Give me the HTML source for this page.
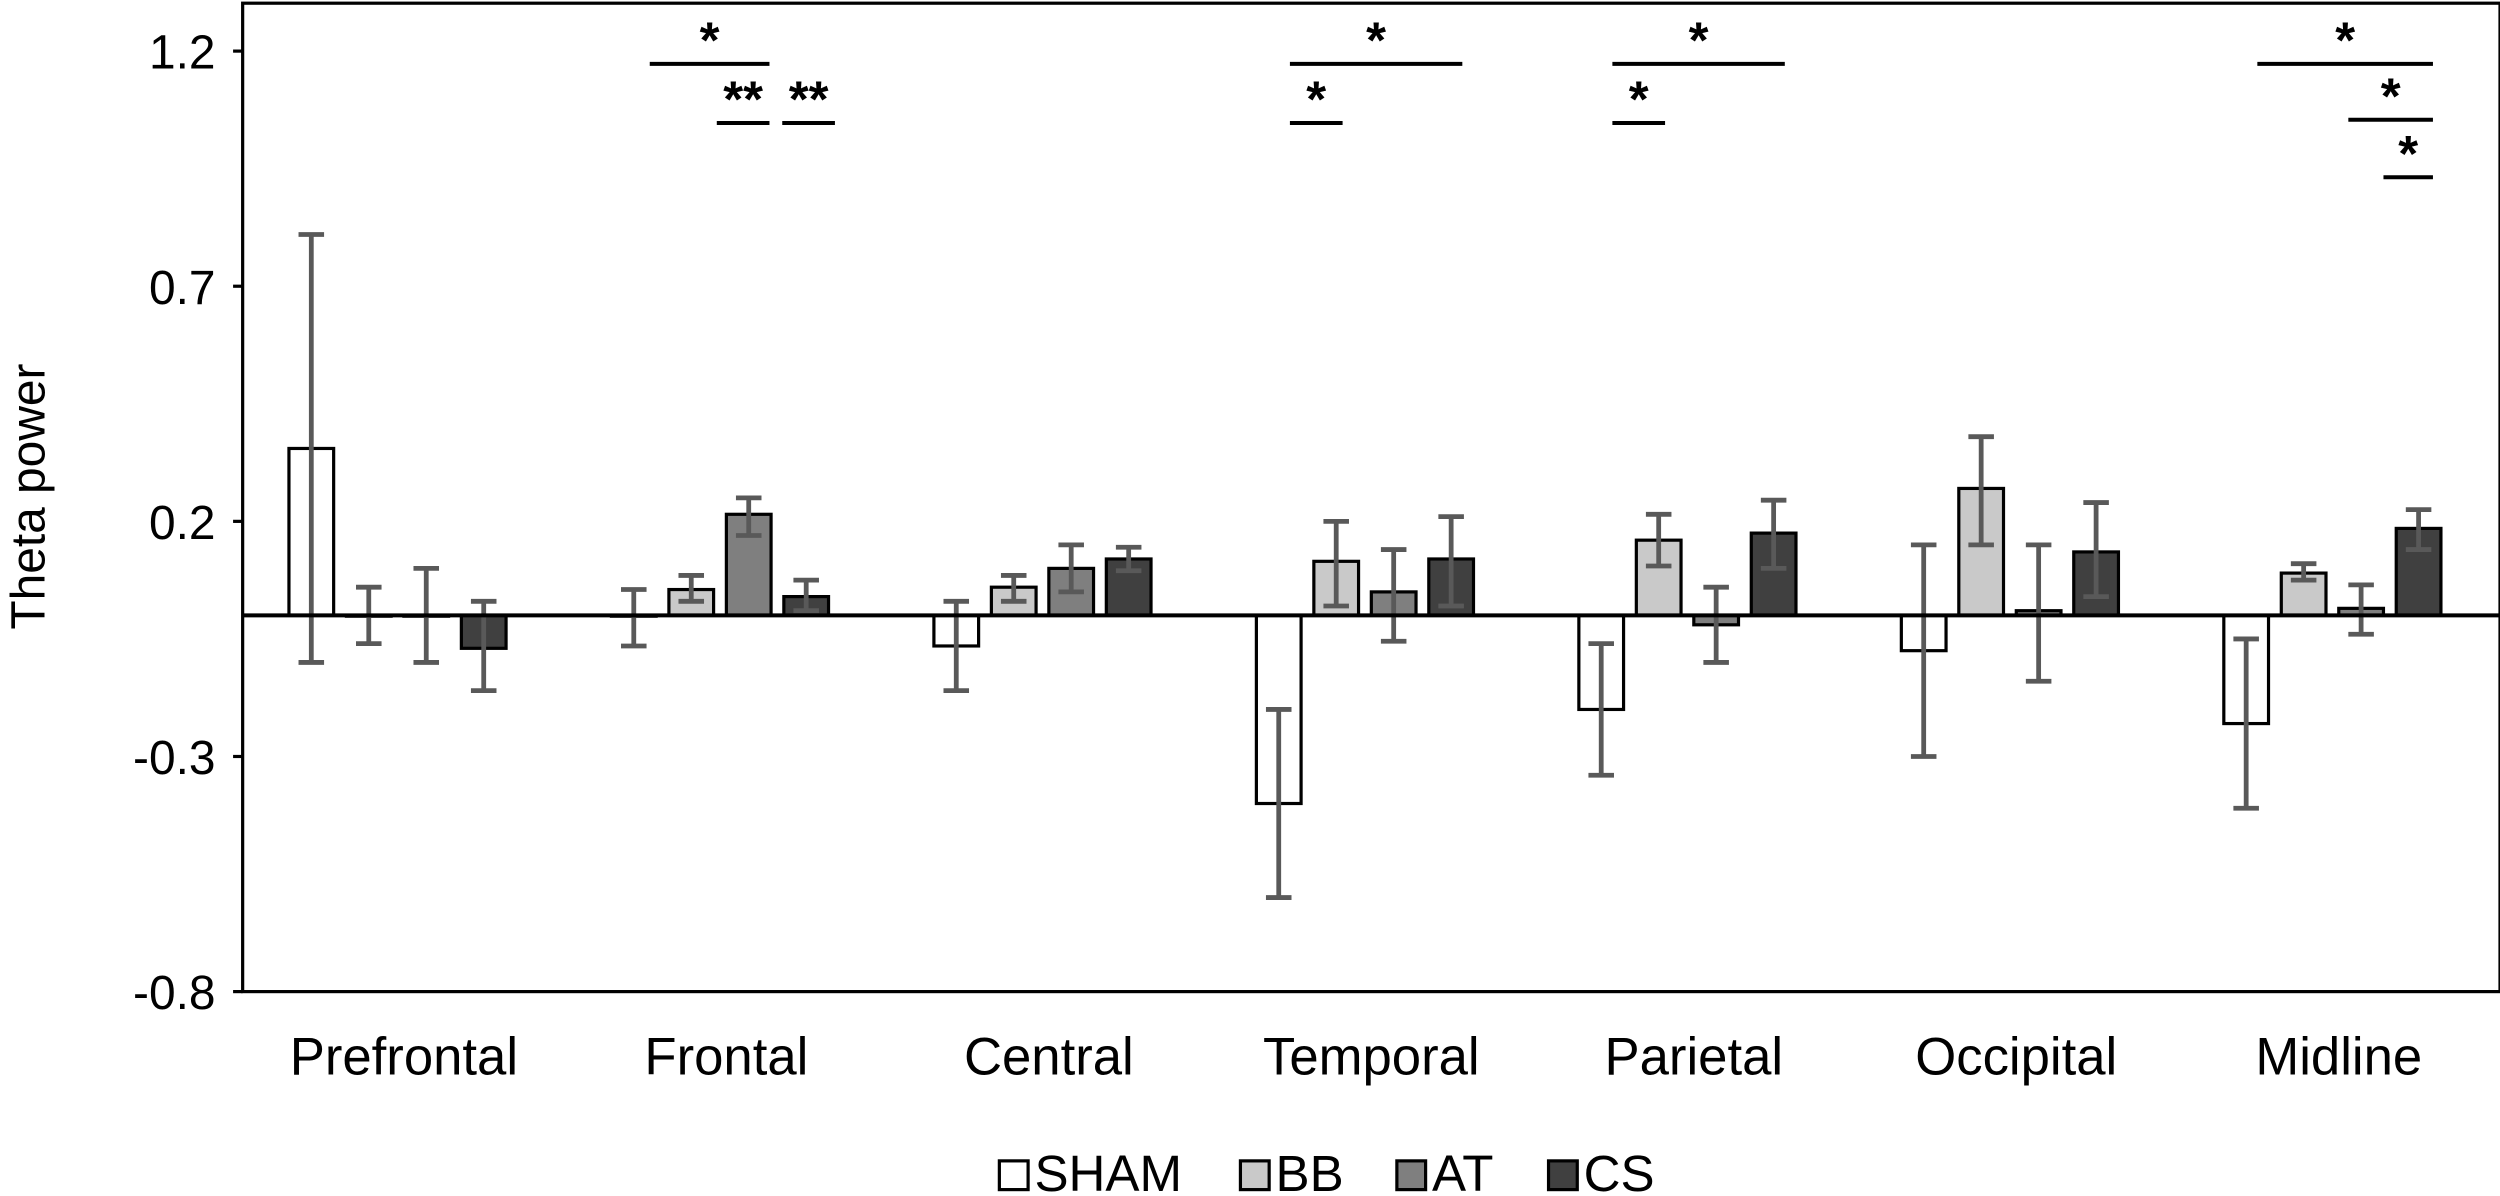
<!DOCTYPE html>
<html><head><meta charset="utf-8"><style>
body{margin:0;background:#fff;}
svg{display:block;font-family:"Liberation Sans",Arial,sans-serif;}
</style></head><body>
<svg id="chart" width="2500" height="1196" viewBox="0 0 1566 749" preserveAspectRatio="none" xmlns="http://www.w3.org/2000/svg">
<rect x="152" y="2" width="1414" height="619" fill="none" stroke="#000" stroke-width="2"/>
<g id="yticks"></g>
<g id="bars"></g>
<line id="zero" stroke="#000" stroke-width="2.5"/>
<g id="xlabels"></g>
<g id="sig"></g>
<text transform="translate(28,311) rotate(-90)" text-anchor="middle" font-size="30">Theta power</text>
<g id="legend"></g>
</svg>
<script>
const categories=["Prefrontal","Frontal","Central","Temporal","Parietal","Occipital","Midline"];
const seriesNames=["SHAM","BB","AT","CS"];
const shamVals=[0.355,0.0,-0.065,-0.40,-0.20,-0.075,-0.23];
const shamHi=[0.81,0.055,0.03,-0.2,-0.06,0.15,-0.05];
const shamLo=[-0.10,-0.065,-0.16,-0.60,-0.34,-0.30,-0.41];
const bbVals=[0.0,0.055,0.06,0.115,0.16,0.27,0.09];
const bbHi=[0.06,0.085,0.085,0.20,0.215,0.38,0.11];
const bbLo=[-0.06,0.03,0.03,0.02,0.105,0.15,0.075];
const atVals=[0.0,0.215,0.10,0.05,-0.02,0.01,0.015];
const atHi=[0.10,0.25,0.15,0.14,0.06,0.15,0.065];
const atLo=[-0.10,0.17,0.05,-0.055,-0.10,-0.14,-0.04];
const csVals=[-0.07,0.04,0.12,0.12,0.175,0.135,0.185];
const csHi=[0.03,0.075,0.145,0.21,0.245,0.24,0.225];
const csLo=[-0.16,0.01,0.095,0.02,0.10,0.04,0.14];
const yTicks=[1.2,0.7,0.2,-0.3,-0.8];
const yTickLabels=["1.2","0.7","0.2","-0.3","-0.8"];
const NS="http://www.w3.org/2000/svg";
const y=v=>32+(1.2-v)*294.5;
const gx=i=>152+202*i+101;
const fills=["#ffffff","#c9c9c9","#7f7f7f","#404040"];
function mk(t,a,p){const e=document.createElementNS(NS,t);for(const k in a)e.setAttribute(k,a[k]);p.appendChild(e);return e;}
const yt=document.getElementById('yticks');
yTicks.forEach((v,i)=>{
 const t=mk('text',{x:135,y:y(v)+11,'text-anchor':'end','font-size':30},yt);t.textContent=yTickLabels[i];
 
 
 const l=mk('line',{x1:146,x2:152,y1:y(v),y2:y(v),stroke:'#000','stroke-width':2},yt);
 
 
});
const series=[[shamVals,shamHi,shamLo],[bbVals,bbHi,bbLo],[atVals,atHi,atLo],[csVals,csHi,csLo]];
const bg=document.getElementById('bars');const offs=[-58,-22,14,50];
categories.forEach((c,i)=>{
 series.forEach((s,k)=>{
  const v=s[0][i],cx=gx(i)+offs[k];
  const r=mk('rect',{x:cx-14,y:Math.min(y(v),y(0)),width:28,height:Math.max(Math.abs(y(v)-y(0)),0.5),fill:fills[k],stroke:'#000','stroke-width':2},bg);
  
  
  const e=mk('path',{d:`M${cx},${y(s[1][i])}V${y(s[2][i])}M${cx-8},${y(s[1][i])}H${cx+8}M${cx-8},${y(s[2][i])}H${cx+8}`,stroke:'#595959','stroke-width':3,fill:'none'},bg);
  
  
 });
 const t=mk('text',{x:gx(i),y:673,'text-anchor':'middle','font-size':33},document.getElementById('xlabels'));t.textContent=c;
 
 
});
const z=document.getElementById('zero');z.setAttribute('x1',152);z.setAttribute('x2',1566);z.setAttribute('y1',y(0));z.setAttribute('y2',y(0));
const sigs=[[407,482,40,"*"],[449,482,77,"**"],[490,523,77,"**"],[808,916,40,"*"],[808,841,77,"*"],[1010,1118,40,"*"],[1010,1043,77,"*"],[1414,1524,40,"*"],[1471,1524,75,"*"],[1493,1524,111,"*"]];
const sg=document.getElementById('sig');
sigs.forEach(s=>{
 const l=mk('line',{x1:s[0],x2:s[1],y1:s[2],y2:s[2],stroke:'#000','stroke-width':2.5},sg);
 
 
 const t=mk('text',{x:(s[0]+s[1])/2,y:s[2]-4,'text-anchor':'middle','font-size':32,'font-weight':'bold'},sg);t.textContent=s[3];
 
 
});
const lg=document.getElementById('legend');const lx=[626,777,875,970];
seriesNames.forEach((n,k)=>{
 const r=mk('rect',{x:lx[k],y:727,width:18,height:18,fill:fills[k],stroke:'#000','stroke-width':2},lg);
 
 
 const t=mk('text',{x:lx[k]+22,y:746,'font-size':32},lg);t.textContent=n;
 
 
});
</script>
</body></html>
